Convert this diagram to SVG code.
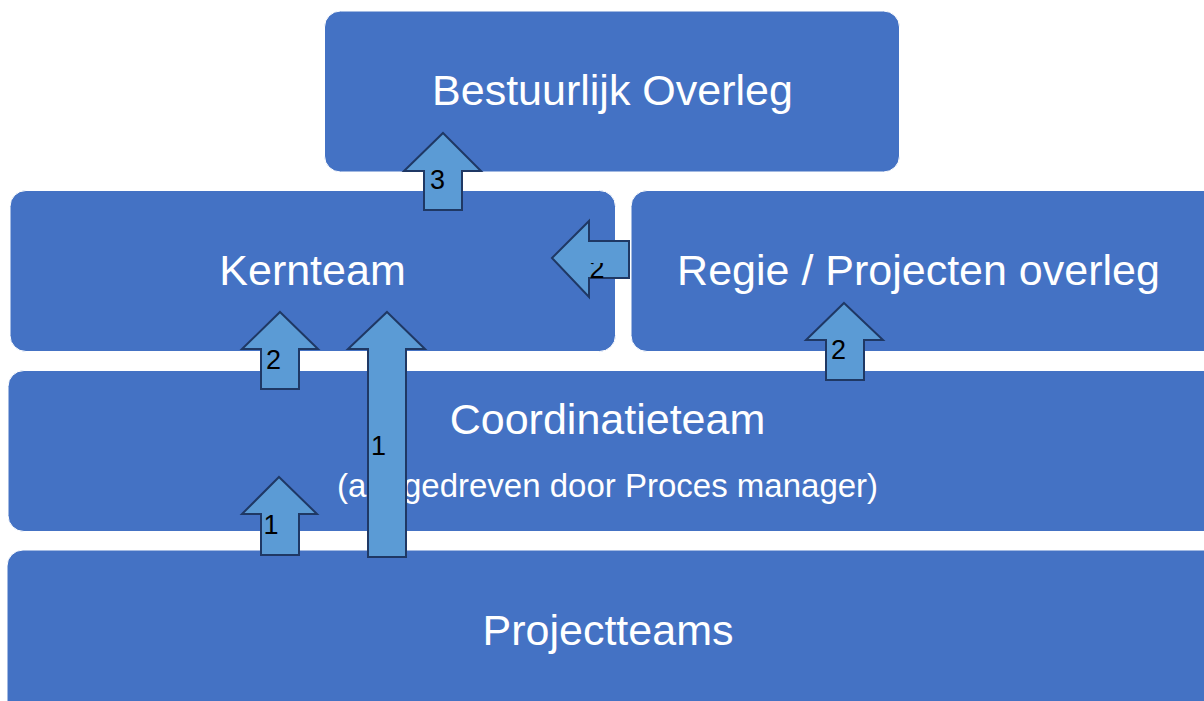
<svg xmlns="http://www.w3.org/2000/svg" width="1204" height="701" viewBox="0 0 1204 701">
  <style>
    .box { fill: #4472C4; stroke: #ffffff; stroke-width: 1; }
    .title { font-family: "Liberation Sans", Arial, sans-serif; font-size: 43px; fill: #ffffff; text-anchor: middle; }
    .sub { font-family: "Liberation Sans", Arial, sans-serif; font-size: 33px; fill: #ffffff; text-anchor: middle; }
    .arrow { fill: #5B9BD5; stroke: #1F3864; stroke-width: 2; stroke-linejoin: miter; }
    .num { font-family: "Liberation Sans", Arial, sans-serif; font-size: 27px; fill: #000000; text-anchor: middle; }
  </style>
  <defs>
    <clipPath id="clipLeft2">
      <rect x="585" y="263" width="44" height="16"/>
    </clipPath>
  </defs>
  <rect x="0" y="0" width="1204" height="701" fill="#ffffff"/>

  <g id="node-bestuurlijk">
    <rect class="box" x="324.5" y="11" width="575" height="161" rx="16"/>
    <text class="title" x="612.5" y="105">Bestuurlijk Overleg</text>
  </g>
  <g id="node-kernteam">
    <rect class="box" x="10" y="190.5" width="605.5" height="161" rx="16"/>
    <text class="title" x="312.5" y="285">Kernteam</text>
  </g>
  <g id="node-regie">
    <rect class="box" x="631" y="190.5" width="589" height="161" rx="16"/>
    <text class="title" x="918.5" y="285">Regie / Projecten overleg</text>
  </g>
  <g id="node-coordinatieteam">
    <rect class="box" x="8" y="370.5" width="1212" height="161" rx="16"/>
    <text class="title" x="607.5" y="434">Coordinatieteam</text>
    <text class="sub" x="607.5" y="497">(aangedreven door Proces manager)</text>
  </g>
  <g id="node-projectteams">
    <rect class="box" x="7" y="550" width="1213" height="180" rx="16"/>
    <text class="title" x="608" y="645">Projectteams</text>
  </g>

  <g id="connectors">
    <g id="arrow-3">
      <polygon class="arrow" points="443,133 481,171 462,171 462,210 424,210 424,171 404,171"/>
      <text class="num" x="437.5" y="189">3</text>
    </g>
    <g id="arrow-regie-kern">
      <polygon class="arrow" points="552,258 589,221 589,241 629,241 629,278 589,278 589,297"/>
      <text class="num" x="597" y="278" clip-path="url(#clipLeft2)">2</text>
    </g>
    <g id="arrow-coord-kern">
      <polygon class="arrow" points="280,312 318,349 299,349 299,389 261,389 261,349 242,349"/>
      <text class="num" x="273.5" y="369">2</text>
    </g>
    <g id="arrow-project-kern">
      <polygon class="arrow" points="387,312 425,349 406,349 406,557 368,557 368,349 348,349"/>
      <text class="num" x="378.5" y="455">1</text>
    </g>
    <g id="arrow-coord-regie">
      <polygon class="arrow" points="844,303 883,340 864,340 864,380 826,380 826,340 806,340"/>
      <text class="num" x="838.5" y="359">2</text>
    </g>
    <g id="arrow-project-coord">
      <polygon class="arrow" points="279,477 317,514 299,514 299,555 261,555 261,514 242,514"/>
      <text class="num" x="271" y="534">1</text>
    </g>
  </g>
</svg>
